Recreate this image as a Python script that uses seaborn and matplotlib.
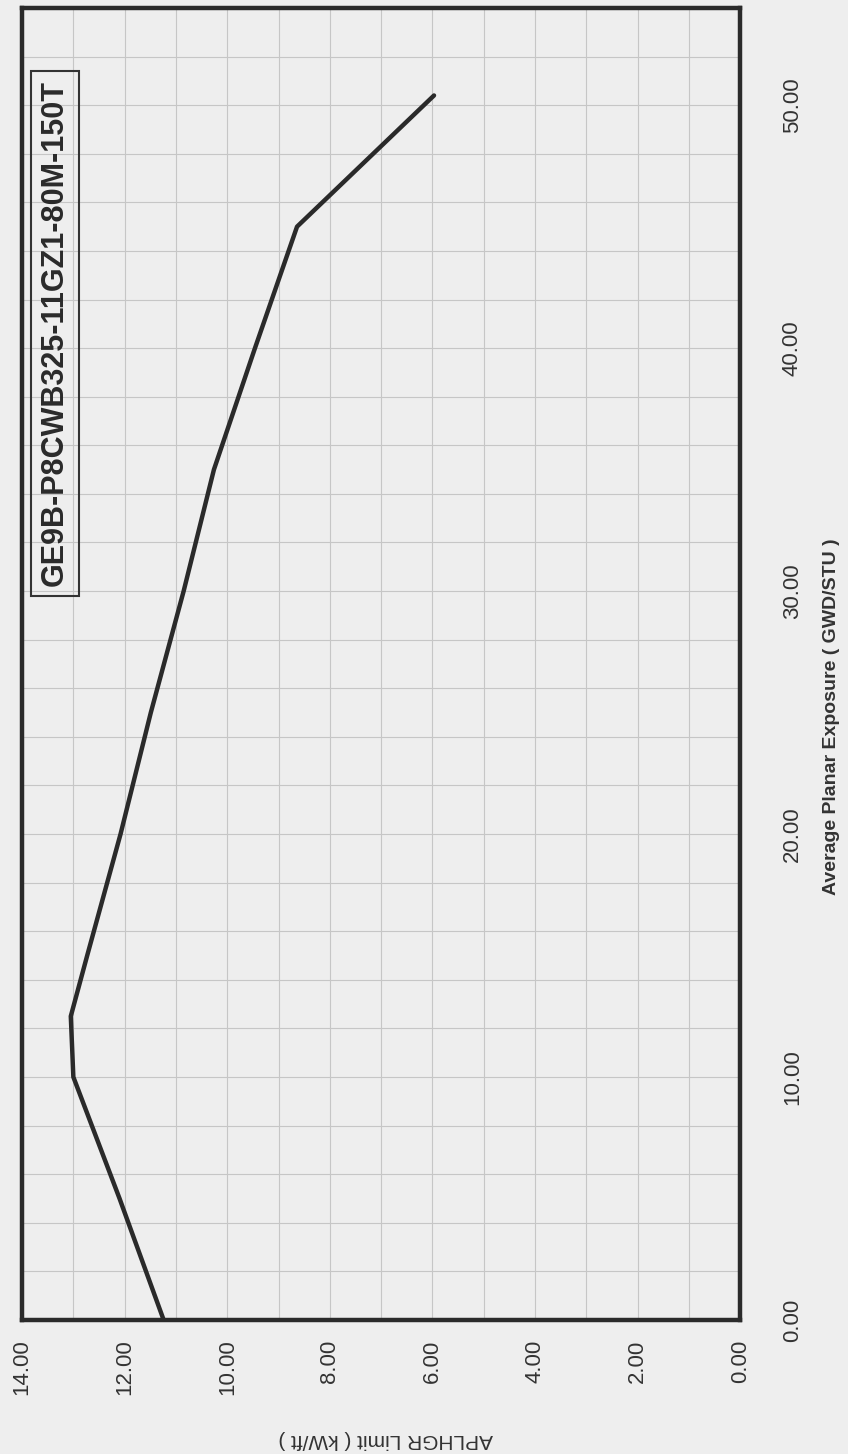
import matplotlib
matplotlib.use("Agg")
import matplotlib.pyplot as plt
from matplotlib.ticker import MultipleLocator, FixedLocator
import numpy as np
import pandas as pd
import seaborn as sns

# APLHGR limit versus average planar exposure
exposure = [0.0, 5.0, 10.0, 12.5, 15.0, 20.0, 25.0, 30.0, 35.0, 40.0, 45.0, 50.4]
aplhgr = [11.24, 12.10, 13.00, 13.05, 12.73, 12.08, 11.49, 10.85, 10.26, 9.46, 8.64, 5.97]

aplhgr_ticks = [14, 12, 10, 8, 6, 4, 2, 0]
exposure_ticks = [0, 10, 20, 30, 40, 50]
bundle_name = "GE9B-P8CWB325-11GZ1-80M-150T"
exposure_label = "Average Planar Exposure ( GWD/STU )"
aplhgr_label = "APLHGR Limit ( kW/ft )"

df = pd.DataFrame({"exposure": exposure, "aplhgr": aplhgr})

sns.set_theme(style="white")
plt.rcParams["font.family"] = ["Liberation Sans", "DejaVu Sans"]

bg = "#eeeeee"
ink = "#2a2a2a"
fig = plt.figure(figsize=(8.48, 14.54), dpi=100, facecolor=bg)
ax = fig.add_axes([0.026, 0.0922, 0.847, 0.9023])
ax.set_facecolor(bg)

sns.lineplot(data=df, x="aplhgr", y="exposure", sort=False, estimator=None,
             color=ink, linewidth=3.2, ax=ax)

ax.set_xlim(14, 0)
ax.set_ylim(0, 54)

ax.xaxis.set_major_locator(FixedLocator(aplhgr_ticks))
ax.xaxis.set_minor_locator(MultipleLocator(1))
ax.yaxis.set_major_locator(FixedLocator(exposure_ticks))
ax.yaxis.set_minor_locator(MultipleLocator(2))
ax.set_xticklabels([f"{v:.2f}" for v in aplhgr_ticks], rotation=90)
ax.yaxis.tick_right()
ax.set_yticklabels([f"{v:.2f}" for v in exposure_ticks], rotation=90, va="center")

ax.grid(True, which="both", color="#c6c6c6", linewidth=0.8)
ax.tick_params(axis="x", which="both", length=0, pad=14, labelsize=16, labelcolor="#333333")
ax.tick_params(axis="y", which="both", length=0, pad=30, labelsize=16, labelcolor="#333333")

for side in ["left", "right", "top", "bottom"]:
    ax.spines[side].set_visible(True)
    ax.spines[side].set_color(ink)
    ax.spines[side].set_linewidth(3.2)

ax.set_ylabel(exposure_label, rotation=90, fontsize=14, fontweight="bold",
              color="#333333", va="center", ha="center")
ax.yaxis.set_label_position("right")
ax.yaxis.set_label_coords(1.115, 0.46)

ax.set_xlabel(aplhgr_label, rotation=180, fontsize=15, color="#333333",
              va="center", ha="center")
ax.xaxis.set_label_coords(0.506, -0.0915)

ax.text(0.046, 0.752, bundle_name, transform=ax.transAxes, rotation=90,
        ha="center", va="center", fontsize=22, fontweight="bold", color=ink,
        bbox=dict(boxstyle="square,pad=0.3", facecolor="none", edgecolor="#333333", linewidth=1.5))

fig.savefig("out.png", dpi=100, facecolor=bg)
